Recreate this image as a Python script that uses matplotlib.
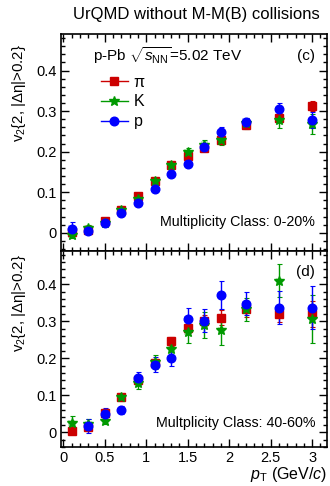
import numpy as np
import matplotlib
matplotlib.use("Agg")
import matplotlib.pyplot as plt
from matplotlib.ticker import MultipleLocator, FormatStrFormatter
from matplotlib.lines import Line2D
from matplotlib.patches import Rectangle

pt_bins = [0.1, 0.3, 0.5, 0.7, 0.9, 1.1, 1.3, 1.5, 1.7, 1.9, 2.2, 2.6, 3.0]

# 0-20% multiplicity class
pi_c = [0.002, 0.008, 0.029, 0.056, 0.090, 0.128, 0.166, 0.188, 0.208, 0.229, 0.266, 0.284, 0.313]
pi_c_err = [0.004, 0.004, 0.004, 0.004, 0.004, 0.004, 0.005, 0.006, 0.006, 0.007, 0.008, 0.010, 0.012]
k_c = [-0.006, 0.012, 0.024, 0.057, 0.082, 0.128, 0.166, 0.199, 0.217, 0.228, 0.270, 0.278, 0.268]
k_c_err = [0.006, 0.006, 0.005, 0.005, 0.005, 0.006, 0.007, 0.009, 0.012, 0.011, 0.014, 0.020, 0.025]
p_c = [0.010, 0.004, 0.025, 0.049, 0.073, 0.109, 0.146, 0.170, 0.211, 0.249, 0.274, 0.304, 0.278]
p_c_err = [0.017, 0.004, 0.004, 0.004, 0.004, 0.004, 0.004, 0.005, 0.008, 0.012, 0.010, 0.015, 0.020]

# 40-60% multiplicity class
pi_d = [0.004, 0.013, 0.051, 0.095, 0.141, 0.186, 0.246, 0.283, 0.300, 0.310, 0.332, 0.319, 0.319]
pi_d_err = [0.006, 0.008, 0.008, 0.008, 0.010, 0.012, 0.012, 0.015, 0.018, 0.020, 0.020, 0.022, 0.035]
k_d = [0.024, 0.022, 0.029, 0.094, 0.132, 0.190, 0.226, 0.270, 0.290, 0.276, 0.332, 0.410, 0.306]
k_d_err = [0.020, 0.015, 0.006, 0.010, 0.015, 0.020, 0.020, 0.030, 0.035, 0.040, 0.030, 0.045, 0.065]
p_pt_d = [0.3, 0.5, 0.7, 0.9, 1.1, 1.3, 1.5, 1.7, 1.9, 2.2, 2.6, 3.0]
p_d = [0.017, 0.049, 0.060, 0.146, 0.183, 0.202, 0.307, 0.302, 0.370, 0.348, 0.337, 0.337]
p_d_err = [0.020, 0.017, 0.010, 0.018, 0.020, 0.022, 0.030, 0.030, 0.038, 0.030, 0.045, 0.058]

species = ["π", "K", "p"]
colors = ["#cc0000", "#009900", "#0000ff"]
markers = ["s", "*", "o"]
msizes = [5.5, 7.5, 6.2]

plt.rcParams["font.family"] = ["Liberation Sans", "DejaVu Sans"]
plt.rcParams["mathtext.fontset"] = "custom"
plt.rcParams["mathtext.rm"] = "Liberation Sans"
plt.rcParams["mathtext.it"] = "Liberation Sans:italic"

W, H = 330, 486
fig = plt.figure(figsize=(W / 100, H / 100), dpi=100)
left, width = 61 / W, 266 / W
ax_c = fig.add_axes([left, 1 - 251 / H, width, 217 / H])
ax_d = fig.add_axes([left, 1 - 447 / H, width, 196 / H])


def draw(ax, series, ylim):
    for (x, y, e), col, m, ms in zip(series, colors, markers, msizes):
        x = np.asarray(x, float)
        y = np.asarray(y, float)
        e = np.asarray(e, float)
        # shaded systematic boxes
        for xi, yi in zip(x, y):
            ax.add_patch(Rectangle((xi - 0.04, yi - 0.008), 0.08, 0.016,
                                   facecolor=col, alpha=0.22, edgecolor="none", zorder=1))
        ax.errorbar(x, y, yerr=e, fmt="none", ecolor=col, elinewidth=1.0,
                    capsize=1.8, capthick=0.8, zorder=2)
        ax.plot(x, y, ls="none", marker=m, ms=ms, color=col, mec=col, zorder=3)
    ax.set_xlim(-0.03, 3.18)
    ax.set_ylim(*ylim)
    ax.xaxis.set_major_locator(MultipleLocator(0.5))
    ax.xaxis.set_minor_locator(MultipleLocator(0.1))
    ax.yaxis.set_major_locator(MultipleLocator(0.1))
    ax.yaxis.set_minor_locator(MultipleLocator(0.02))
    ax.xaxis.set_major_formatter(FormatStrFormatter("%g"))
    ax.yaxis.set_major_formatter(FormatStrFormatter("%g"))
    ax.tick_params(which="both", direction="in", top=True, right=True, width=1.0)
    ax.tick_params(which="major", length=6, labelsize=10.5, pad=3)
    ax.tick_params(which="minor", length=3)
    for s in ax.spines.values():
        s.set_linewidth(1.2)


draw(ax_c, [(pt_bins, pi_c, pi_c_err), (pt_bins, k_c, k_c_err), (pt_bins, p_c, p_c_err)],
     (-0.045, 0.49))
draw(ax_d, [(pt_bins, pi_d, pi_d_err), (pt_bins, k_d, k_d_err), (p_pt_d, p_d, p_d_err)],
     (-0.04, 0.49))
ax_c.tick_params(labelbottom=False)

for ax, yc in ((ax_c, 0.73), (ax_d, 0.735)):
    ax.set_ylabel("v$_2${2, |Δη|>0.2}", fontsize=10.8)
    ax.yaxis.set_label_coords(-0.125, yc)

fig.text(0.594, 1 - 15 / H, "UrQMD without M-M(B) collisions", ha="center", va="center",
         fontsize=12)

ax_c.text(0.12, 0.9, r"p-Pb $\sqrt{s_{\rm NN}}$=5.02 TeV", transform=ax_c.transAxes,
          fontsize=11, va="center")
ax_c.text(0.955, 0.9, "(c)", transform=ax_c.transAxes, fontsize=11, ha="right", va="center")
ax_c.text(0.955, 0.134, "Multiplicity Class: 0-20%", transform=ax_c.transAxes,
          fontsize=10.3, ha="right", va="center")
ax_d.text(0.955, 0.893, "(d)", transform=ax_d.transAxes, fontsize=11, ha="right", va="center")
ax_d.text(0.955, 0.122, "Multplicity Class: 40-60%", transform=ax_d.transAxes,
          fontsize=10.3, ha="right", va="center")

handles = [Line2D([], [], color=c, marker=m, ms=ms, lw=1.0)
           for c, m, ms in zip(colors, markers, msizes)]
ax_c.legend(handles, species, loc="upper left", bbox_to_anchor=(0.12, 0.85), frameon=False,
            fontsize=11.5, handlelength=1.7, handletextpad=0.35, labelspacing=0.3, borderpad=0)

ax_d.set_xlabel(r"$p_{\rm T}$ (GeV/$c$)", fontsize=11.5, labelpad=0)
ax_d.xaxis.set_label_coords(1.0, -0.09)
ax_d.xaxis.label.set_ha("right")

fig.savefig("out.png", dpi=100)
